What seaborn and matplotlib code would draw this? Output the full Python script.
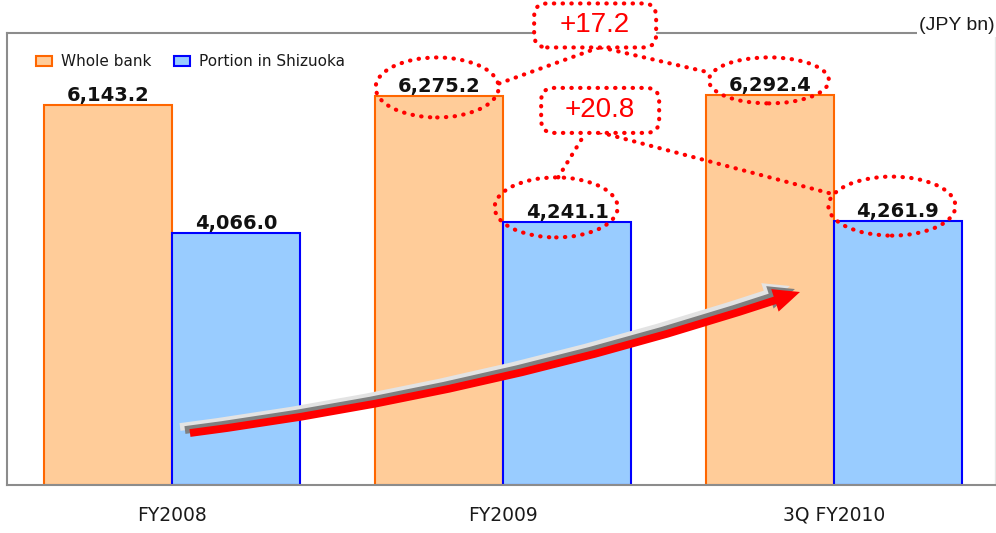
import matplotlib
matplotlib.use("Agg")
import matplotlib.pyplot as plt
import matplotlib.transforms as mtransforms
from matplotlib import font_manager
from matplotlib.patches import Ellipse, FancyBboxPatch, Patch
from matplotlib.lines import Line2D
import pandas as pd
import seaborn as sns

# ---- data -------------------------------------------------------------
periods = ["FY2008", "FY2009", "3Q FY2010"]
series_names = ["Whole bank", "Portion in Shizuoka"]
whole_bank = [6143.2, 6275.2, 6292.4]
shizuoka = [4066.0, 4241.1, 4261.9]
unit_label = "(JPY bn)"

# ---- style ------------------------------------------------------------
fill_colors = ["#FFCC99", "#99CCFF"]
edge_colors = ["#FF6600", "#0000FF"]
frame_gray = "#8C8C8C"
accent = "#FF0000"
dotted = (0, (0.1, 2.0))

sns.set_style("white")
plt.rcParams["font.family"] = ["DejaVu Sans"]

installed = {f.name for f in font_manager.fontManager.ttflist}
if "Liberation Sans Narrow" in installed:
    narrow_family, tag_size = ["Liberation Sans Narrow"], 23
else:
    narrow_family, tag_size = ["Liberation Sans"], 20

df = pd.DataFrame({
    "period": periods * 2,
    "series": [series_names[0]] * len(periods) + [series_names[1]] * len(periods),
    "value": whole_bank + shizuoka,
})

fig = plt.figure(figsize=(9.96, 5.33), dpi=100)
ax = fig.add_axes([7 / 996, 48 / 533, 988 / 996, 452 / 533])

sns.barplot(data=df, x="period", y="value", hue="series", order=periods,
            hue_order=series_names, palette=fill_colors, saturation=1,
            width=0.774, errorbar=None, legend=False, ax=ax, zorder=2)

# bar outlines and value labels
for cont, ec in zip(ax.containers, edge_colors):
    for bar in cont:
        bar.set_edgecolor(ec)
        bar.set_linewidth(1.5)
    ax.bar_label(cont, labels=[f"{v:,.1f}" for v in cont.datavalues],
                 padding=0, fontsize=14, fontweight="bold", color="#111111",
                 zorder=4)

ax.set_xlim(-0.5, 2.487)
ax.set_ylim(0, 7300)
ax.set_yticks([])
ax.set_xlabel("")
ax.set_ylabel("")

ax.set_xticks([0.5, 1.5], minor=True)
ax.tick_params(axis="x", which="major", length=0, pad=15, labelsize=13.5,
               labelcolor="#1A1A1A")
ax.tick_params(axis="x", which="minor", direction="in", length=6, width=1.5,
               color=frame_gray)

for side in ("left", "top", "bottom"):
    ax.spines[side].set_color(frame_gray)
    ax.spines[side].set_linewidth(1.5)
ax.spines["right"].set_color("#E6E6E6")
ax.spines["right"].set_linewidth(1)

# legend
handles = [Patch(facecolor=f, edgecolor=e, linewidth=1.5)
           for f, e in zip(fill_colors, edge_colors)]
leg = ax.legend(handles, series_names, loc="center left",
                bbox_to_anchor=(0.029, 0.936), frameon=False, ncol=2,
                fontsize=11, handlelength=1.05, handleheight=0.65,
                handletextpad=0.6, columnspacing=1.5, borderpad=0,
                borderaxespad=0)
for t in leg.get_texts():
    t.set_color("#1A1A1A")

# unit note on the top frame line
ax.annotate(unit_label, xy=(1, 1), xycoords="axes fraction", xytext=(0, -1),
            textcoords="offset points", ha="right", va="bottom", fontsize=14,
            family=["Liberation Sans", "DejaVu Sans"], color="#1A1A1A",
            bbox=dict(fc="white", ec="none", pad=1.5), zorder=7,
            annotation_clip=False)

# ---- highlight annotations (offsets in pixels from each bar top) ------
orange_bars = list(ax.containers[0])
blue_bars = list(ax.containers[1])


def bar_top(bar):
    return bar.get_x() + bar.get_width() / 2, bar.get_height()


def anchored(bar):
    x, y = bar_top(bar)
    return fig.dpi_scale_trans + mtransforms.ScaledTranslation(x, y, ax.transData)


def ring(bar, dx, dy, w, h):
    e = Ellipse((dx / 100, dy / 100), w / 100, h / 100, transform=anchored(bar),
                fill=False, ec=accent, lw=3, ls=dotted, clip_on=False, zorder=5)
    e.set_capstyle("round")
    ax.add_patch(e)


def link(bar, p1, p2):
    ln = Line2D([p1[0] / 100, p2[0] / 100], [p1[1] / 100, p2[1] / 100],
                transform=anchored(bar), color=accent, lw=3, ls=dotted,
                dash_capstyle="round", solid_capstyle="round", clip_on=False,
                zorder=5)
    ax.add_line(ln)


def tag(bar, text, dx, dy, w, h):
    box = FancyBboxPatch(((dx - w / 2) / 100, (dy - h / 2) / 100), w / 100, h / 100,
                         boxstyle="round,pad=0,rounding_size=0.13",
                         transform=anchored(bar), fc="white", ec=accent, lw=3,
                         ls=dotted, clip_on=False, zorder=6)
    box.set_capstyle("round")
    ax.add_patch(box)
    ax.text(dx / 100, dy / 100, text, transform=anchored(bar), ha="center",
            va="center", fontsize=tag_size, color=accent, family=narrow_family,
            zorder=7, clip_on=False)


ring(orange_bars[1], -2, 9, 123, 60)
ring(orange_bars[2], -1, 15, 120, 46)
ring(blue_bars[1], -11, 15, 123, 60)
ring(blue_bars[2], -6, 15, 127, 59)

diff_whole = whole_bank[2] - whole_bank[1]
diff_shizuoka = shizuoka[2] - shizuoka[1]

link(orange_bars[1], (60, 13), (160, 49))
link(orange_bars[1], (162, 49), (270, 24))
tag(orange_bars[1], f"+{diff_whole:.1f}", 156, 71, 122, 44)

link(blue_bars[1], (-9, 45), (18, 89))
link(blue_bars[1], (33, 90), (263, 29))
tag(blue_bars[1], f"+{diff_shizuoka:.1f}", 33, 112, 118, 45)

# ---- growth arrow with a soft shadow -----------------------------------
start = (0.1852, 0.1150)
end = (0.8026, 0.4270)
layers = [("#E3E3E3", -0.0101, 0.0133), ("#808080", -0.0051, 0.0066),
          (accent, 0.0, 0.0)]
for color, ox, oy in layers:
    ax.annotate("", xy=(end[0] + ox, end[1] + oy),
                xytext=(start[0] + ox, start[1] + oy),
                xycoords="axes fraction", textcoords="axes fraction",
                arrowprops=dict(arrowstyle="simple,head_length=0.95,head_width=0.85,tail_width=0.28",
                                connectionstyle="arc3,rad=0.05", fc=color,
                                ec="none", shrinkA=0, shrinkB=0,
                                mutation_scale=20),
                zorder=5)

fig.savefig("out.png", dpi=100, facecolor="white")
